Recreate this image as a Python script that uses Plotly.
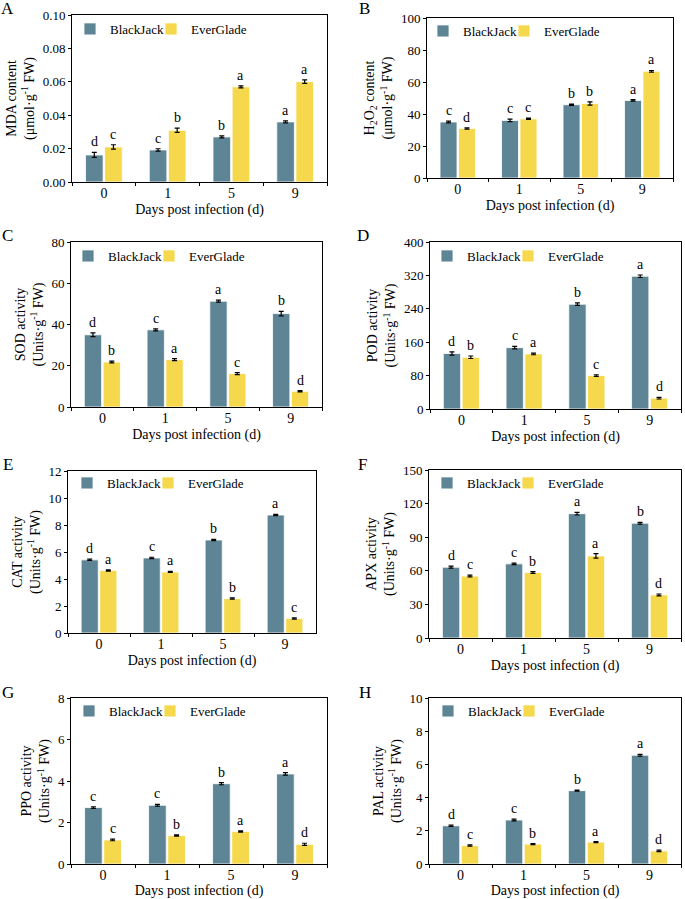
import plotly.graph_objects as go

days = ["0", "1", "5", "9"]

# A MDA
mda_bj = [0.0162, 0.0192, 0.0270, 0.0360]
mda_bj_err = [0.0015, 0.0007, 0.0006, 0.0006]
mda_eg = [0.0210, 0.0310, 0.0570, 0.0601]
mda_eg_err = [0.0013, 0.0013, 0.0006, 0.0010]
mda_bj_lab = ["d", "c", "b", "a"]
mda_eg_lab = ["c", "b", "a", "a"]

# B H2O2
h2o2_bj = [35.0, 36.0, 45.8, 48.5]
h2o2_bj_err = [0.6, 0.8, 0.4, 0.5]
h2o2_eg = [31.0, 37.0, 46.6, 66.7]
h2o2_eg_err = [0.4, 0.4, 1.0, 0.5]
h2o2_bj_lab = ["c", "c", "b", "a"]
h2o2_eg_lab = ["d", "c", "b", "a"]

# C SOD
sod_bj = [35.0, 37.4, 51.3, 45.3]
sod_bj_err = [0.9, 0.5, 0.5, 1.1]
sod_eg = [21.8, 23.0, 16.2, 7.6]
sod_eg_err = [0.4, 0.5, 0.5, 0.3]
sod_bj_lab = ["d", "c", "a", "b"]
sod_eg_lab = ["b", "a", "c", "d"]

# D POD
pod_bj = [133, 147, 251, 318]
pod_bj_err = [4, 3, 3, 3]
pod_eg = [124, 132, 80, 26]
pod_eg_err = [3, 2, 2, 2]
pod_bj_lab = ["d", "c", "b", "a"]
pod_eg_lab = ["b", "a", "c", "d"]

# E CAT
cat_bj = [5.42, 5.56, 6.89, 8.74]
cat_bj_err = [0.05, 0.05, 0.05, 0.05]
cat_eg = [4.63, 4.52, 2.55, 1.08]
cat_eg_err = [0.05, 0.04, 0.05, 0.05]
cat_bj_lab = ["d", "c", "b", "a"]
cat_eg_lab = ["a", "a", "b", "c"]

# F APX
apx_bj = [63.2, 66.2, 111.0, 102.5]
apx_bj_err = [0.9, 0.6, 1.2, 0.8]
apx_eg = [55.3, 58.5, 73.3, 38.5]
apx_eg_err = [0.8, 0.8, 2.0, 0.8]
apx_bj_lab = ["d", "c", "a", "b"]
apx_eg_lab = ["c", "b", "a", "d"]

# G PPO
ppo_bj = [2.72, 2.83, 3.87, 4.34]
ppo_bj_err = [0.04, 0.04, 0.05, 0.06]
ppo_eg = [1.16, 1.37, 1.57, 0.95]
ppo_eg_err = [0.04, 0.03, 0.03, 0.05]
ppo_bj_lab = ["c", "c", "b", "a"]
ppo_eg_lab = ["c", "b", "a", "d"]

# H PAL
pal_bj = [2.30, 2.65, 4.42, 6.55]
pal_bj_err = [0.04, 0.05, 0.03, 0.05]
pal_eg = [1.11, 1.20, 1.32, 0.79]
pal_eg_err = [0.04, 0.03, 0.03, 0.04]
pal_bj_lab = ["d", "c", "b", "a"]
pal_eg_lab = ["c", "b", "a", "d"]

unit_umol = "(μmol·g<sup>-1</sup> FW)"
unit_u = "(Units·g<sup>-1</sup> FW)"

data = [
    ("A", "MDA content<br>" + unit_umol, mda_bj, mda_bj_err, mda_eg, mda_eg_err, mda_bj_lab, mda_eg_lab),
    ("B", "H<sub>2</sub>O<sub>2</sub> content<br>" + unit_umol, h2o2_bj, h2o2_bj_err, h2o2_eg, h2o2_eg_err, h2o2_bj_lab, h2o2_eg_lab),
    ("C", "SOD activity<br>" + unit_u, sod_bj, sod_bj_err, sod_eg, sod_eg_err, sod_bj_lab, sod_eg_lab),
    ("D", "POD activity<br>" + unit_u, pod_bj, pod_bj_err, pod_eg, pod_eg_err, pod_bj_lab, pod_eg_lab),
    ("E", "CAT activity<br>" + unit_u, cat_bj, cat_bj_err, cat_eg, cat_eg_err, cat_bj_lab, cat_eg_lab),
    ("F", "APX activity<br>" + unit_u, apx_bj, apx_bj_err, apx_eg, apx_eg_err, apx_bj_lab, apx_eg_lab),
    ("G", "PPO activity<br>" + unit_u, ppo_bj, ppo_bj_err, ppo_eg, ppo_eg_err, ppo_bj_lab, ppo_eg_lab),
    ("H", "PAL activity<br>" + unit_u, pal_bj, pal_bj_err, pal_eg, pal_eg_err, pal_bj_lab, pal_eg_lab),
]

# layout config: y range, dtick, tick format, pixel box (left, right, top, bottom),
# panel-letter position, legend first-swatch centre
cfg = [
    dict(rng=[0, 0.1], dtick=0.02, fmt=".2f", box=(72, 327, 15, 182), lp=(8, 9), leg=(94, 30)),
    dict(rng=[0, 100], dtick=20, fmt="", box=(427, 673, 18, 178), lp=(364, 9), leg=(447, 32)),
    dict(rng=[0, 80], dtick=20, fmt="", box=(71, 322, 242, 407), lp=(8, 235), leg=(92, 257)),
    dict(rng=[0, 400], dtick=80, fmt="", box=(430, 681, 242, 409), lp=(363, 235), leg=(451, 257)),
    dict(rng=[0, 12], dtick=2, fmt="", box=(68, 316, 471, 633), lp=(8, 464), leg=(91, 484)),
    dict(rng=[0, 150], dtick=30, fmt="", box=(429, 681, 470, 638), lp=(362, 464), leg=(451, 484)),
    dict(rng=[0, 8], dtick=2, fmt="", box=(71, 327, 698, 864), lp=(8, 692), leg=(93, 712)),
    dict(rng=[0, 10], dtick=2, fmt="", box=(429, 681, 698, 864), lp=(365, 692), leg=(452, 712)),
]

W, H = 685, 899
BJ_COL = "#5E8595"
EG_COL = "#F6D84C"
FONT = "Liberation Serif"
BARGAP = 0.4
LEG_STEP = 81

fig = go.Figure()
layout = dict(
    width=W, height=H, margin=dict(l=0, r=0, t=0, b=0, autoexpand=False),
    paper_bgcolor="white", plot_bgcolor="white",
    barmode="group", bargap=BARGAP, bargroupgap=0.08,
    font=dict(family=FONT, size=13, color="black"),
    showlegend=True,
)
annotations = []
leg_idx = 0

for i, (letter, ytitle, bj, bje, eg, ege, bjl, egl) in enumerate(data):
    c = cfg[i]
    n = "" if i == 0 else str(i + 1)
    xa, ya = "x" + n, "y" + n
    l, r, t, b = c["box"]
    cw = (r - l) / len(days)
    off = cw * (1 - BARGAP) / 4
    for k, (name, vals, errs, labs, col) in enumerate(
            [("BlackJack", bj, bje, bjl, BJ_COL), ("EverGlade", eg, ege, egl, EG_COL)]):
        leg_idx += 1
        lg = "legend" if leg_idx == 1 else "legend" + str(leg_idx)
        fig.add_trace(go.Bar(
            x=days, y=vals, name=name, xaxis=xa, yaxis=ya, legend=lg,
            marker=dict(color=col, line=dict(color="rgba(255,255,255,0.8)", width=1)),
            error_y=dict(type="data", array=errs, color="black", thickness=1.2, width=2.5),
        ))
        lx, ly = c["leg"]
        layout[lg] = dict(
            x=(lx - 24 + k * LEG_STEP) / W, y=1 - (ly - 16) / H, xanchor="left", yanchor="top",
            orientation="h", bgcolor="rgba(0,0,0,0)",
            font=dict(family=FONT, size=13, color="black"), itemwidth=30,
        )
        sgn = -1 if k == 0 else 1
        for j, (v, e, lab) in enumerate(zip(vals, errs, labs)):
            annotations.append(dict(
                text=lab, x=j, y=v + e, xref=xa, yref=ya, showarrow=False,
                xanchor="center", yanchor="bottom", xshift=sgn * off, yshift=1,
                font=dict(family=FONT, size=14, color="black"),
            ))
    standoff = 5 if t > 600 else 4
    layout["xaxis" + n] = dict(
        domain=[l / W, r / W], anchor=ya, type="category",
        categoryorder="array", categoryarray=days, range=[-0.5, len(days) - 0.5],
        showline=True, linecolor="black", linewidth=1, mirror=True,
        ticks="outside", tickson="boundaries", ticklen=3, tickcolor="black",
        ticklabelstandoff=-2,
        tickfont=dict(family=FONT, size=14), showgrid=False,
        title=dict(text="Days post infection (d)", font=dict(family=FONT, size=14), standoff=standoff),
    )
    layout["yaxis" + n] = dict(
        domain=[1 - b / H, 1 - t / H], anchor=xa, range=c["rng"], dtick=c["dtick"],
        tickformat=c["fmt"], showline=True, linecolor="black", linewidth=1, mirror=True,
        ticks="outside", ticklen=3, tickcolor="black", tickfont=dict(family=FONT, size=13),
        showgrid=False, zeroline=False,
        title=dict(text=ytitle, font=dict(family=FONT, size=14), standoff=4),
    )
    annotations.append(dict(
        text=letter, x=c["lp"][0] / W, y=1 - c["lp"][1] / H, xref="paper", yref="paper",
        showarrow=False, xanchor="center", yanchor="middle", font=dict(size=17, family=FONT),
    ))

layout["annotations"] = annotations
fig.update_layout(**layout)
fig.write_html("out.html", config={"displayModeBar": False},
               post_script="document.body.style.margin='0px';")
